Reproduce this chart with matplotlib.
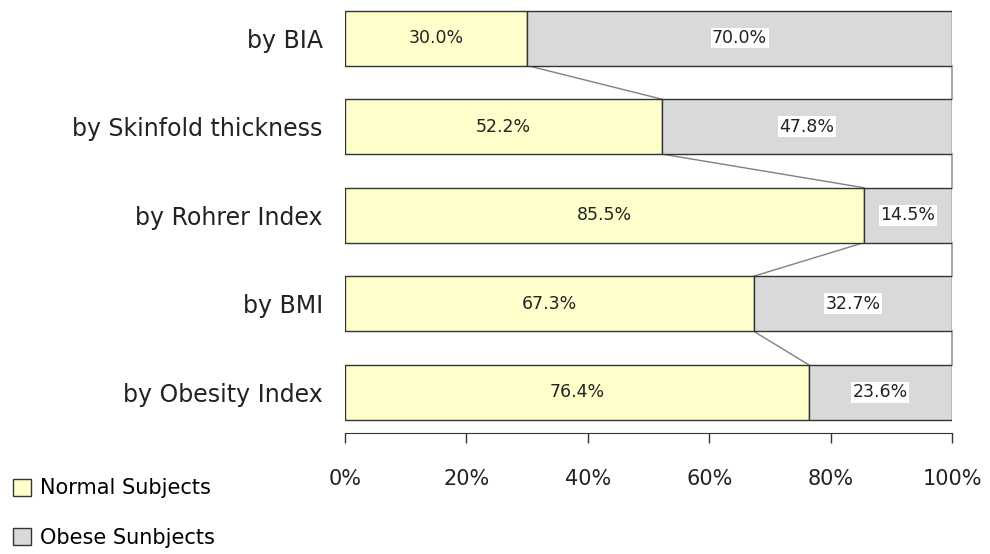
import matplotlib.pyplot as plt
from matplotlib.patches import Patch
import numpy as np

plt.rcParams['font.family'] = ['DejaVu Sans']

# top to bottom order as drawn
methods = ['by BIA', 'by Skinfold thickness', 'by Rohrer Index', 'by BMI', 'by Obesity Index']
normal = np.array([30.0, 52.2, 85.5, 67.3, 76.4])
obese = np.array([70.0, 47.8, 14.5, 32.7, 23.6])
ticks = [0, 20, 40, 60, 80, 100]

W, H = 990, 554
fig = plt.figure(figsize=(W / 100, H / 100), dpi=100)
ax = fig.add_axes([345 / W, 121 / H, 607 / W, 433 / H])

ypos = np.arange(len(methods))[::-1]
h = 0.62
normal_color = '#ffffcc'
obese_color = '#d9d9d9'

ax.barh(ypos, normal, height=h, color=normal_color, edgecolor='#333333', linewidth=1, zorder=2)
ax.barh(ypos, obese, left=normal, height=h, color=obese_color, edgecolor='#333333',
        linewidth=1, zorder=2)

for y, n, o in zip(ypos, normal, obese):
    ax.text(n / 2, y, f'{n:.1f}%', ha='center', va='center', fontsize=12.5,
            color='#222222', zorder=4)
    ax.text(n + o / 2, y, f'{o:.1f}%', ha='center', va='center', fontsize=12.5,
            color='#222222', zorder=4,
            bbox=dict(facecolor='white', edgecolor='none', pad=1))

# series lines between segments
for i in range(len(ypos) - 1):
    ax.plot([normal[i], normal[i + 1]], [ypos[i] - h / 2, ypos[i + 1] + h / 2],
            color='#808080', lw=1, zorder=1)
    ax.plot([100, 100], [ypos[i] - h / 2, ypos[i + 1] + h / 2],
            color='#a8a8a8', lw=1.5, zorder=1, clip_on=False)

ax.set_xlim(0, 100)
ax.set_ylim(-0.46, 4.43)
ax.set_yticks(ypos)
ax.set_yticklabels(methods, fontsize=17, color='#222222')
ax.tick_params(axis='y', length=0, pad=16)
ax.set_xticks(ticks)
ax.set_xticklabels([f'{t}%' for t in ticks], fontsize=15, color='#222222')
ax.tick_params(axis='x', direction='out', length=7, width=1, pad=19, color='#333333')
for s in ['top', 'right', 'left']:
    ax.spines[s].set_visible(False)
ax.spines['bottom'].set_color('#333333')

handles = [Patch(facecolor=normal_color, edgecolor='#333333', label='Normal Subjects'),
           Patch(facecolor=obese_color, edgecolor='#333333', label='Obese Sunbjects')]
fig.legend(handles=handles, loc='lower left', bbox_to_anchor=(0.0, -0.011), frameon=False,
           fontsize=15, handlelength=0.9, handleheight=0.9, handletextpad=0.4,
           labelspacing=1.4, borderaxespad=0.2, borderpad=0.4)

fig.savefig('out.png', dpi=100)
